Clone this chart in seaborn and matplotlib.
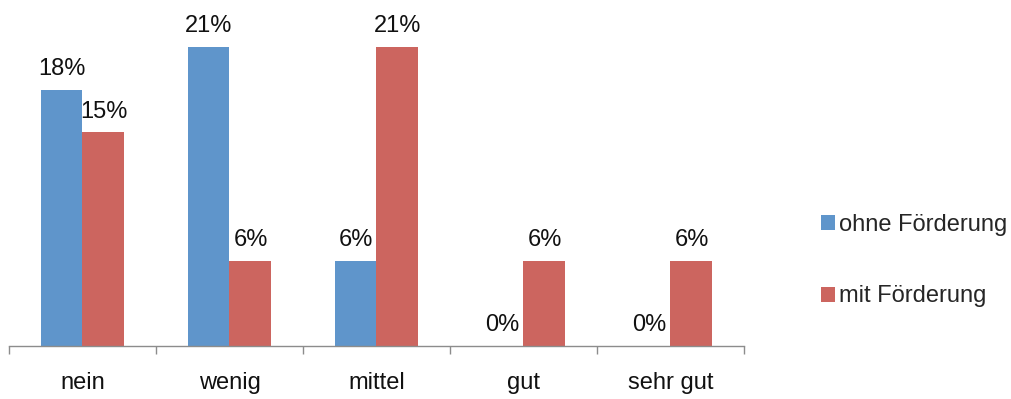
import matplotlib
matplotlib.use("Agg")
import matplotlib.pyplot as plt
import seaborn as sns
import pandas as pd
from matplotlib.patches import Patch

categories = ["nein", "wenig", "mittel", "gut", "sehr gut"]
ohne_foerderung = [18, 21, 6, 0, 0]
mit_foerderung = [15, 6, 21, 6, 6]
series_names = ["ohne Förderung", "mit Förderung"]
colors = ["#5F95CB", "#CC655F"]

df = pd.DataFrame({
    "Kategorie": categories * 2,
    "Anteil": ohne_foerderung + mit_foerderung,
    "Gruppe": [series_names[0]] * len(categories) + [series_names[1]] * len(categories),
})

sns.set_theme(style="white")
plt.rcParams["font.family"] = ["Liberation Sans", "DejaVu Sans"]

fig = plt.figure(figsize=(10.12, 3.99), dpi=100)
ax = fig.add_axes([9 / 1012, 53 / 399, 735 / 1012, 346 / 399])

sns.barplot(data=df, x="Kategorie", y="Anteil", hue="Gruppe", order=categories,
            hue_order=series_names, palette=colors, width=0.571, gap=0,
            saturation=1, linewidth=0, ax=ax, legend=False)

for cont in ax.containers:
    ax.bar_label(cont, labels=[f"{v:.0f}%" for v in cont.datavalues],
                 padding=7, fontsize=17, color="#111111")

ax.set_xlim(-0.5, len(categories) - 0.5)
ax.set_ylim(0, 24.3)
ax.set_xlabel("")
ax.set_ylabel("")
ax.set_yticks([])
for s in ["top", "right", "left"]:
    ax.spines[s].set_visible(False)
ax.spines["bottom"].set_color("#8C8C8C")
ax.spines["bottom"].set_linewidth(1.0)

ax.set_xticks(range(len(categories)))
ax.set_xticklabels(categories, fontsize=17, color="#111111")
ax.set_xticks([i - 0.5 for i in range(len(categories) + 1)], minor=True)
ax.tick_params(axis="x", which="major", bottom=True, length=0, pad=19)
ax.tick_params(axis="x", which="minor", bottom=True, length=6, width=1.0,
               color="#8C8C8C", direction="out")

handles = [Patch(facecolor=c, edgecolor="none") for c in colors]
fig.legend(handles, series_names, loc="center left", bbox_to_anchor=(821 / 1012, 0.347),
           frameon=False, fontsize=17, handlelength=0.6, handleheight=0.6,
           handletextpad=0.15, labelspacing=2.1, borderpad=0, borderaxespad=0)

fig.savefig("out.png", dpi=100)
